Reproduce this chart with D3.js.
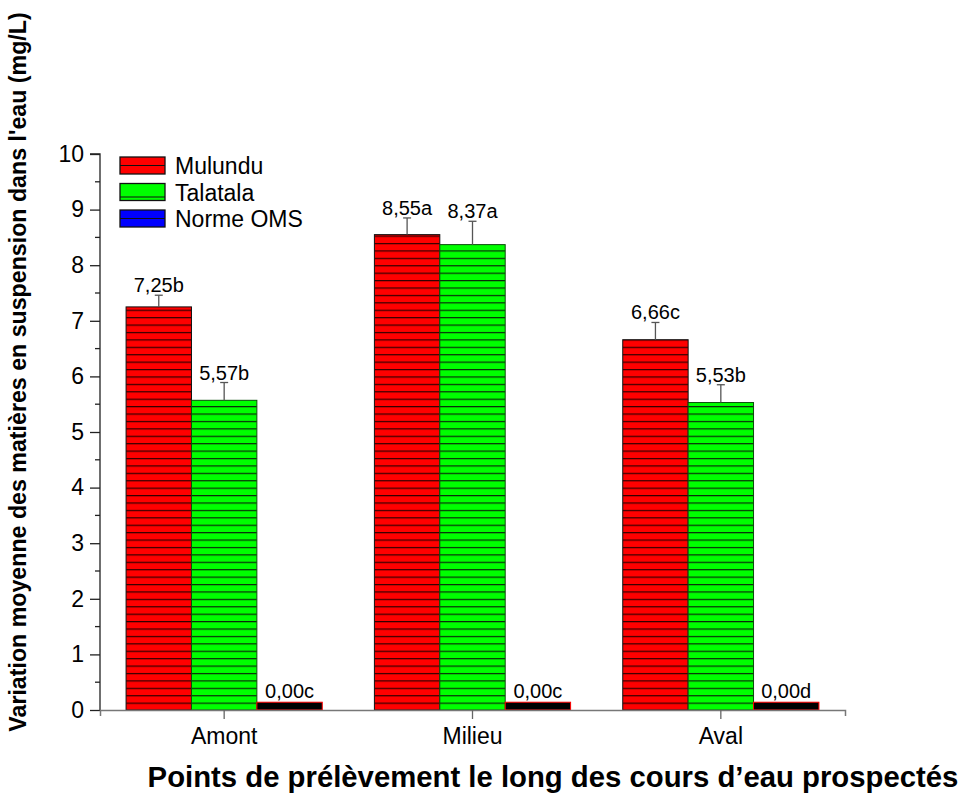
<!DOCTYPE html>
<html><head><meta charset="utf-8">
<script src="https://cdn.jsdelivr.net/npm/d3@7"></script>
<style>body{margin:0;background:#fff}svg{display:block}text{font-family:Arial,"Liberation Sans",sans-serif}</style>
</head><body>
<svg id="c" width="962" height="796"></svg>
<script>
const categories = ["Amont", "Milieu", "Aval"];
const seriesNames = ["Mulundu", "Talatala", "Norme OMS"];
const mulundu = [7.25, 8.55, 6.66];
const talatala = [5.57, 8.37, 5.53];
const normeOMS = [0.14, 0.14, 0.14];
const mulunduErr = [0.21, 0.30, 0.31];
const talatalaErr = [0.32, 0.42, 0.32];
const mulunduLabels = ["7,25b", "8,55a", "6,66c"];
const talatalaLabels = ["5,57b", "8,37a", "5,53b"];
const normeLabels = ["0,00c", "0,00c", "0,00d"];
const yTicks = [0,1,2,3,4,5,6,7,8,9,10];

const FONT = "Arial,'Liberation Sans',sans-serif";
const svg = d3.select("#c");
const m = {l:100, r:845, t:154, b:710};
const x = d3.scaleBand().domain(categories).range([m.l, m.r]).paddingInner(0.21).paddingOuter(0.105);
const xs = d3.scaleBand().domain(seriesNames).range([0, x.bandwidth()]);
const y = d3.scaleLinear().domain([0, 10]).range([m.b, m.t]);

const defs = svg.append("defs");
function pat(id, fill, line, step){
  const p = defs.append("pattern").attr("id", id).attr("patternUnits","userSpaceOnUse")
    .attr("width", 10).attr("height", step).attr("y", m.b);
  p.append("rect").attr("width",10).attr("height",step).attr("fill",fill);
  p.append("line").attr("x1",0).attr("x2",10).attr("y1",0.5).attr("y2",0.5).attr("stroke",line).attr("stroke-width",1.4);
}
const step = (y(0)-y(10))/75;
pat("pr", "#ff0000", "#300000", step);
pat("pg", "#00ff00", "#0a2a0a", step);

const series = [
  {name:"Mulundu", vals:mulundu, err:mulunduErr, labels:mulunduLabels, fill:"url(#pr)", stroke:"#111"},
  {name:"Talatala", vals:talatala, err:talatalaErr, labels:talatalaLabels, fill:"url(#pg)", stroke:"#0b4d0b"},
  {name:"Norme OMS", vals:normeOMS, err:null, labels:normeLabels, fill:"#000", stroke:"#ff0000"}
];

series.forEach(s => {
  const g = svg.append("g");
  categories.forEach((c, i) => {
    const bx = x(c) + xs(s.name);
    const bw = xs.bandwidth();
    g.append("rect").attr("x", bx).attr("y", y(s.vals[i])).attr("width", bw)
      .attr("height", y(0) - y(s.vals[i])).attr("fill", s.fill).attr("stroke", s.stroke).attr("stroke-width", 1);
    const cx = bx + bw/2;
    let labelY;
    if (s.err) {
      const top = y(s.vals[i] + s.err[i]);
      g.append("line").attr("x1",cx).attr("x2",cx).attr("y1",y(s.vals[i])).attr("y2",top).attr("stroke","#555").attr("stroke-width",1.3);
      g.append("line").attr("x1",cx-4).attr("x2",cx+4).attr("y1",top).attr("y2",top).attr("stroke","#555").attr("stroke-width",1.3);
      labelY = top - 3;
    } else {
      labelY = y(s.vals[i]) - 4;
    }
    g.append("text").attr("x", cx).attr("y", labelY).attr("text-anchor","middle")
      .attr("font-size", 20).attr("fill","#000").text(s.labels[i]);
  });
});

// y axis
const yAxis = d3.axisLeft(y).tickValues(yTicks).tickSize(10).tickPadding(6);
const ya = svg.append("g").attr("transform", `translate(${m.l},0)`).call(yAxis);
ya.select(".domain").attr("stroke","#222").attr("stroke-width",1.3).attr("d", `M-10,${m.t}H0V${m.b}`);
ya.selectAll(".tick line").attr("stroke","#222").attr("stroke-width",1.3);
ya.selectAll(".tick text").attr("font-size",23).attr("fill","#000").attr("font-family",FONT);
const minor = d3.range(0.5, 10, 1);
ya.selectAll(".minor").data(minor).join("line").attr("class","minor")
  .attr("x1",-5).attr("x2",0).attr("y1",d=>y(d)).attr("y2",d=>y(d)).attr("stroke","#222").attr("stroke-width",1.3);

// x axis
const xAxis = d3.axisBottom(x).tickSize(9).tickPadding(9).tickSizeOuter(6);
const xa = svg.append("g").attr("transform", `translate(0,${m.b})`).call(xAxis);
xa.select(".domain").attr("stroke","#777").attr("stroke-width",1.5);
xa.selectAll(".tick line").attr("stroke","#666").attr("stroke-width",1.3);
xa.selectAll(".tick text").attr("font-size",23).attr("fill","#000").attr("font-family",FONT);

// legend
const legColors = ["#ff0000","#00ff00","#0000ff"];
const lg = svg.append("g").attr("transform","translate(120,157)");
seriesNames.forEach((n,i) => {
  const gy = i*26.5;
  lg.append("rect").attr("x",0).attr("y",gy).attr("width",45).attr("height",17).attr("fill", legColors[i]).attr("stroke","#111").attr("stroke-width",1.3);
  const ly = gy + (i==1?13.5:8.5);
  lg.append("line").attr("x1",0).attr("x2",45).attr("y1",ly).attr("y2",ly).attr("stroke","#111").attr("stroke-width",1.2);
  lg.append("text").attr("x",55).attr("y",gy+17).attr("font-size",23).attr("fill","#000").text(n);
});

// titles
svg.append("text").attr("x", 553).attr("y", 787).attr("text-anchor","middle").attr("font-size",29.3).attr("font-weight","bold")
  .text("Points de prélèvement le long des cours d’eau prospectés");
svg.append("text").attr("transform","translate(26,372) rotate(-90)").attr("text-anchor","middle").attr("font-size",23.2).attr("font-weight","bold")
  .text("Variation moyenne des matières en suspension dans l'eau (mg/L)");
</script>
</body></html>
